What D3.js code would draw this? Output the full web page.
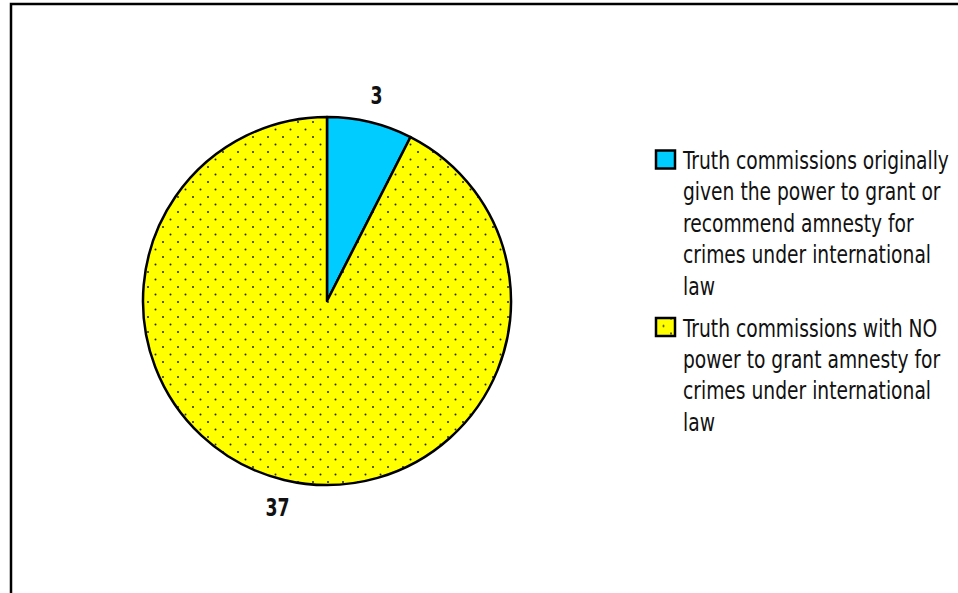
<!DOCTYPE html>
<html>
<head>
<meta charset="utf-8">
<script src="https://cdn.jsdelivr.net/npm/d3@7"></script>
<style>
  body { margin: 0; background: #fff; }
  svg text { font-family: "DejaVu Sans Condensed", "Liberation Sans", sans-serif; }
</style>
</head>
<body>
<div id="chart"></div>
<script>
const categories = [
  "Truth commissions originally given the power to grant or recommend amnesty for crimes under international law",
  "Truth commissions with NO power to grant amnesty for crimes under international law"
]
const values = [3, 37]
const legendLines = [
  ["Truth commissions originally", "given the power to grant or", "recommend amnesty for", "crimes under international", "law"],
  ["Truth commissions with NO", "power to grant amnesty for", "crimes under international", "law"]
]
const colors = ["#00ccff", "#ffff00"]

const width = 958, height = 593

const svg = d3.select("#chart").append("svg")
    .attr("width", width)
    .attr("height", height)

// dotted fill for the big slice
const defs = svg.append("defs")
const pat = defs.append("pattern")
    .attr("id", "dots")
    .attr("patternUnits", "userSpaceOnUse")
    .attr("width", 15)
    .attr("height", 15)
pat.append("rect").attr("width", 15).attr("height", 15).attr("fill", colors[1])
pat.append("circle").attr("cx", 1).attr("cy", 1).attr("r", 1).attr("fill", "#222")
pat.append("circle").attr("cx", 8.5).attr("cy", 8.5).attr("r", 1).attr("fill", "#222")

const fills = [colors[0], "url(#dots)"]

// outer frame
svg.append("rect")
    .attr("x", 11).attr("y", 4)
    .attr("width", 960).attr("height", 620)
    .attr("fill", "none")
    .attr("stroke", "#000")
    .attr("stroke-width", 2.5)

const cx = 327, cy = 301, r = 184

const pie = d3.pie().sort(null).value(d => d)
const arcs = pie(values)
const arc = d3.arc().innerRadius(0).outerRadius(r)

const g = svg.append("g").attr("transform", `translate(${cx},${cy})`)

g.selectAll("path")
  .data(arcs)
  .enter()
  .append("path")
    .attr("d", arc)
    .attr("fill", (d, i) => fills[i])
    .attr("stroke", "#000")
    .attr("stroke-width", 2.5)
    .attr("stroke-linejoin", "round")

// value labels outside the pie, squeezed to look condensed
const labelArc = d3.arc().innerRadius(r + 28).outerRadius(r + 28)
g.selectAll(".val")
  .data(arcs)
  .enter()
  .append("text")
    .attr("class", "val")
    .attr("transform", d => {
      const c = labelArc.centroid(d)
      return `translate(${c[0]},${c[1]}) scale(0.8,1)`
    })
    .attr("text-anchor", "middle")
    .attr("dy", "0.36em")
    .attr("font-size", 24)
    .attr("font-weight", "bold")
    .attr("fill", "#111")
    .text(d => d.data)

// legend
const legend = svg.append("g").attr("transform", "translate(655,150)")
const lineH = 31.5
const textX = 28
let yOff = 0
const texts = []
legendLines.forEach((lines, i) => {
  const item = legend.append("g").attr("transform", `translate(0,${yOff})`)
  item.append("rect")
      .attr("x", 1).attr("y", 0.5)
      .attr("width", 19).attr("height", 18)
      .attr("fill", fills[i])
      .attr("stroke", "#000")
      .attr("stroke-width", 2.5)
  const t = item.append("text")
      .attr("y", 19)
      .attr("font-size", 24)
      .attr("fill", "#111")
  lines.forEach((ln, j) => {
    t.append("tspan").attr("x", 0).attr("dy", j == 0 ? 0 : lineH).text(ln)
  })
  texts.push(t)
  yOff += lines.length * lineH + 10
})

// fit the first line to the width seen in the original (~266px)
const firstW = texts[0].select("tspan").node().getComputedTextLength()
const sx = 266 / firstW
texts.forEach(t => t.attr("transform", `translate(${textX},0) scale(${sx},1)`))
</script>
</body>
</html>
